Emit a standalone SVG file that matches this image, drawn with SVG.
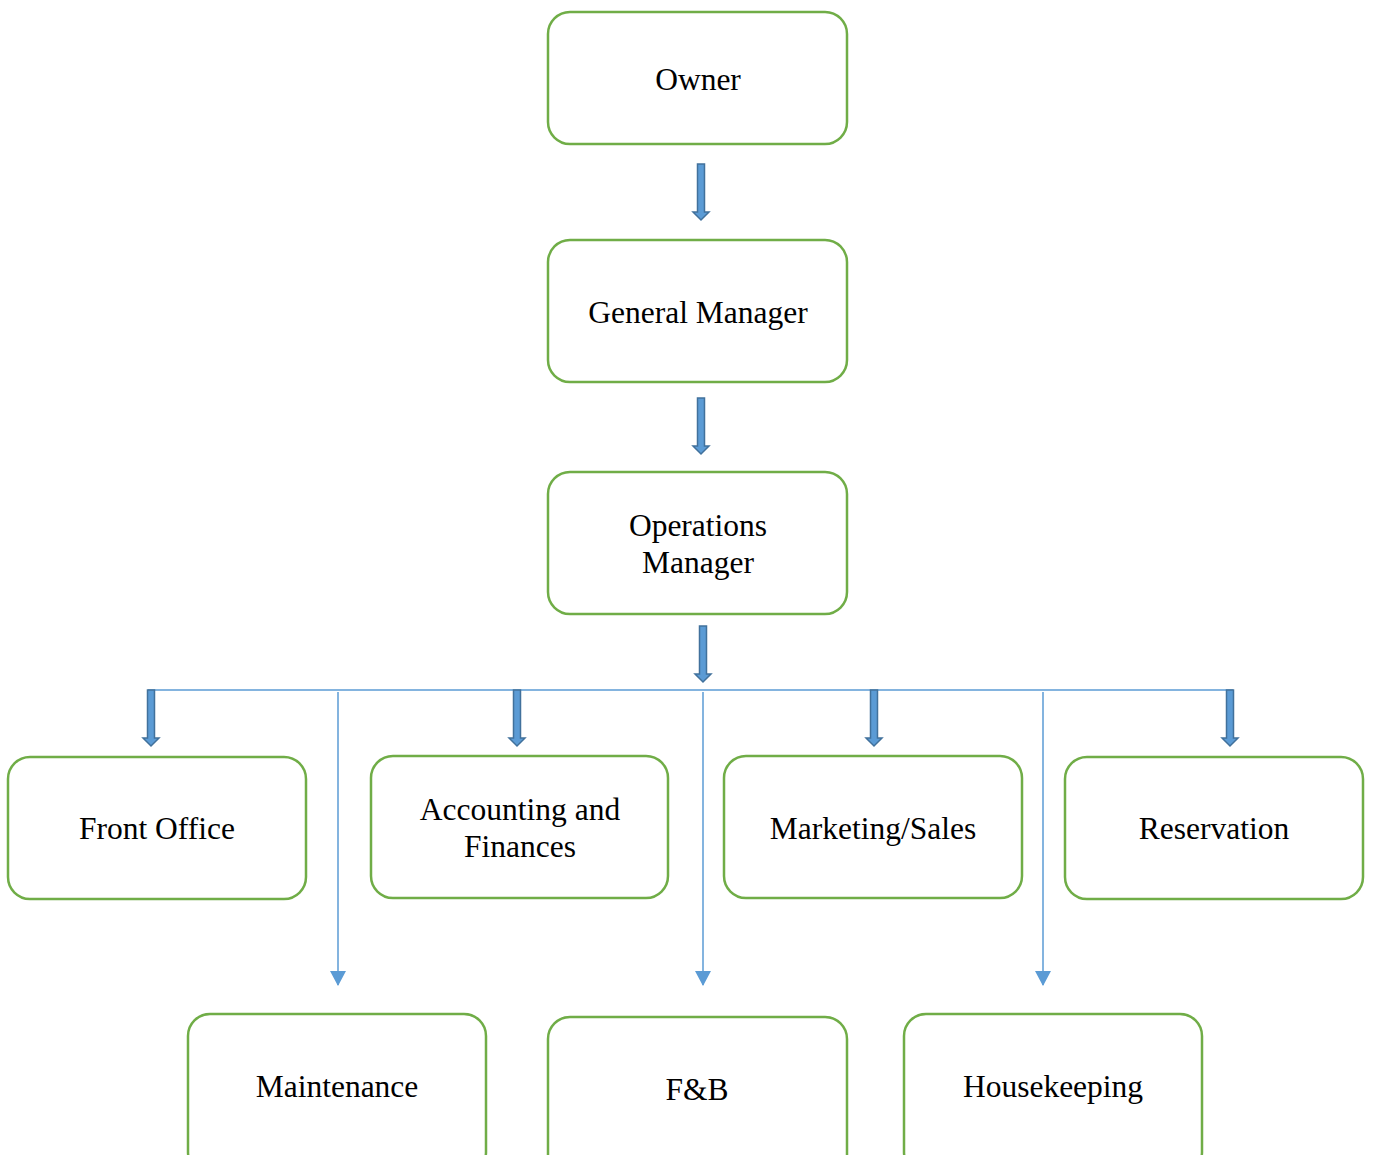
<svg xmlns="http://www.w3.org/2000/svg" width="1373" height="1155" viewBox="0 0 1373 1155">
<defs>
<style>
.box{fill:#fff;stroke:#70AD47;stroke-width:2.5}
.t{font-family:"Liberation Serif","Times New Roman",serif;font-size:31.5px;fill:#000;text-anchor:middle}
.blk{fill:#5B9BD5;stroke:#41719C;stroke-width:1.5}
.ln{stroke:#5B9BD5;stroke-width:1.5;fill:none}
</style>
<marker id="tri" markerWidth="16" markerHeight="16" refX="14" refY="8" orient="auto" markerUnits="userSpaceOnUse" viewBox="0 0 16 16">
<path d="M0,0 L15,8 L0,16 Z" fill="#5B9BD5"/>
</marker>
<path id="ba" d="M-3.5,0 L3.5,0 L3.5,48 L8,48 L0,56 L-8,48 L-3.5,48 Z"/>
</defs>
<rect width="1373" height="1155" fill="#fff"/>
<g id="connectors">
<use href="#ba" class="blk" transform="translate(701,164)"/>
<use href="#ba" class="blk" transform="translate(701,398)"/>
<use href="#ba" class="blk" transform="translate(703,626)"/>
<line class="ln" x1="148" y1="690" x2="1233" y2="690"/>
<use href="#ba" class="blk" transform="translate(151,690)"/>
<use href="#ba" class="blk" transform="translate(517,690)"/>
<use href="#ba" class="blk" transform="translate(874,690)"/>
<use href="#ba" class="blk" transform="translate(1230,690)"/>
<line class="ln" x1="338" y1="692" x2="338" y2="985" marker-end="url(#tri)"/>
<line class="ln" x1="703" y1="692" x2="703" y2="985" marker-end="url(#tri)"/>
<line class="ln" x1="1043" y1="692" x2="1043" y2="985" marker-end="url(#tri)"/>
</g>
<g id="owner"><rect class="box" x="548" y="12" width="299" height="132" rx="22"/><text class="t" x="698" y="90">Owner</text></g>
<g id="general-manager"><rect class="box" x="548" y="240" width="299" height="142" rx="22"/><text class="t" x="698" y="323">General Manager</text></g>
<g id="operations-manager"><rect class="box" x="548" y="472" width="299" height="142" rx="22"/><text class="t" x="698" y="536">Operations</text><text class="t" x="698" y="573">Manager</text></g>
<g id="front-office"><rect class="box" x="8" y="757" width="298" height="142" rx="22"/><text class="t" x="157" y="839">Front Office</text></g>
<g id="accounting"><rect class="box" x="371" y="756" width="297" height="142" rx="22"/><text class="t" x="520" y="820">Accounting and</text><text class="t" x="520" y="857">Finances</text></g>
<g id="marketing"><rect class="box" x="724" y="756" width="298" height="142" rx="22"/><text class="t" x="873" y="839">Marketing/Sales</text></g>
<g id="reservation"><rect class="box" x="1065" y="757" width="298" height="142" rx="22"/><text class="t" x="1214" y="839">Reservation</text></g>
<g id="maintenance"><rect class="box" x="188" y="1014" width="298" height="160" rx="22"/><text class="t" x="337" y="1097">Maintenance</text></g>
<g id="fb"><rect class="box" x="548" y="1017" width="299" height="160" rx="22"/><text class="t" x="697" y="1100">F&amp;B</text></g>
<g id="housekeeping"><rect class="box" x="904" y="1014" width="298" height="160" rx="22"/><text class="t" x="1053" y="1097">Housekeeping</text></g>
</svg>
